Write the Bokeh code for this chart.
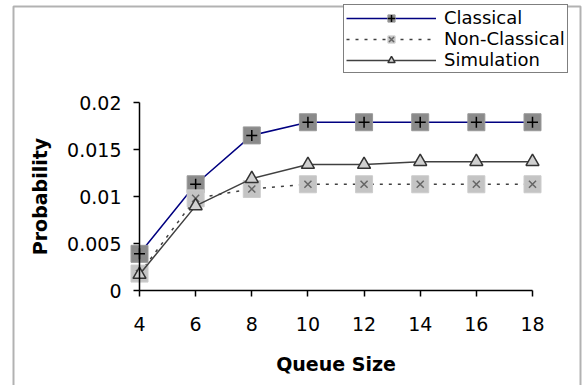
from bokeh.plotting import figure
from bokeh.models import (Range1d, FixedTicker, CustomJSTickFormatter, Legend, LegendItem,
                          BoxAnnotation)
from bokeh.embed import file_html
from bokeh.resources import INLINE

# ---- data ----
queue_size = [4, 6, 8, 10, 12, 14, 16, 18]
classical = [0.0039, 0.0113, 0.0165, 0.0179, 0.0179, 0.0179, 0.0179, 0.0179]
non_classical = [0.0018, 0.0098, 0.0108, 0.0113, 0.0113, 0.0113, 0.0113, 0.0113]
simulation = [0.0017, 0.0090, 0.0119, 0.0134, 0.0134, 0.0137, 0.0137, 0.0137]
x_ticks = [4, 6, 8, 10, 12, 14, 16, 18]
y_ticks = [0, 0.005, 0.01, 0.015, 0.02]

FONT = "DejaVu Sans"
W, H = 582, 385

# pixel layout of the plotting area (axes cross at x=4 / y=0)
X0_PX, X1_PX = 139, 532     # x = 4 .. 18
Y0_PX, Y1_PX = 290, 102     # y = 0 .. 0.02 (from top)
xs = (X1_PX - X0_PX) / (x_ticks[-1] - x_ticks[0])
ys = (Y0_PX - Y1_PX) / (y_ticks[-1] - y_ticks[0])
x_range = Range1d(x_ticks[0] - X0_PX / xs, x_ticks[-1] + (W - X1_PX) / xs)
y_range = Range1d(y_ticks[0] - (H - Y0_PX) / ys, y_ticks[-1] + Y1_PX / ys)

p = figure(width=W, height=H, output_backend="svg", toolbar_location=None,
           x_range=x_range, y_range=y_range,
           min_border_left=0, min_border_right=0, min_border_top=0, min_border_bottom=0)
p.grid.visible = False
p.outline_line_color = None
p.background_fill_color = "white"
p.border_fill_color = "white"

for ax in (p.xaxis[0], p.yaxis[0]):
    ax.axis_line_color = "black"
    ax.axis_line_width = 1.5
    ax.major_tick_line_color = "black"
    ax.major_tick_line_width = 1.5
    ax.minor_tick_line_color = None
    ax.major_tick_in = 0
    ax.major_tick_out = 6
    ax.major_label_text_font = FONT
    ax.major_label_text_font_size = "19px"
    ax.major_label_text_color = "black"
    ax.axis_label_text_font = FONT
    ax.axis_label_text_font_size = "19px"
    ax.axis_label_text_font_style = "bold"
    ax.axis_label_text_color = "black"

xa = p.xaxis[0]
xa.ticker = FixedTicker(ticks=x_ticks)
xa.fixed_location = 0
xa.bounds = (x_ticks[0], x_ticks[-1])
xa.axis_label = "Queue Size"
xa.major_label_standoff = 20
xa.axis_label_standoff = 19

ya = p.yaxis[0]
ya.ticker = FixedTicker(ticks=y_ticks)
ya.formatter = CustomJSTickFormatter(code="return Number(tick.toPrecision(6)).toString();")
ya.fixed_location = 4
ya.bounds = (y_ticks[0], y_ticks[-1])
ya.axis_label = "Probability"
ya.major_label_standoff = 12
ya.axis_label_standoff = 13

# Classical
l1 = p.line(queue_size, classical, line_color="#000080", line_width=1.5)
m1a = p.scatter(queue_size, classical, marker="square", size=17, fill_color="#8a8a8a",
                line_color="#999999", line_width=1)
m1b = p.scatter(queue_size, classical, marker="cross", size=11, line_color="black", line_width=1.5)

# Non-Classical
l2 = p.line(queue_size, non_classical, line_color="#404040", line_width=1.5, line_dash="3 6")
m2a = p.scatter(queue_size, non_classical, marker="square", size=17, fill_color="#c4c4c4",
                line_color="#cccccc", line_width=1)
m2b = p.scatter(queue_size, non_classical, marker="x", size=10, line_color="#666666", line_width=1.5)

# Simulation
l3 = p.line(queue_size, simulation, line_color="#404040", line_width=1.5)
m3 = p.scatter(queue_size, simulation, marker="triangle", size=13, fill_color="#d0d0d0",
               line_color="#333333", line_width=1.5)

legend = Legend(items=[
    LegendItem(label="Classical", renderers=[l1, m1a, m1b]),
    LegendItem(label="Non-Classical", renderers=[l2, m2a, m2b]),
    LegendItem(label="Simulation", renderers=[l3, m3]),
], location=(343, H - 73))
legend.border_line_color = "black"
legend.border_line_width = 1.5
legend.background_fill_color = "white"
legend.background_fill_alpha = 1
legend.padding = 2
legend.spacing = 0
legend.margin = 0
legend.glyph_width = 90
legend.glyph_height = 18
legend.label_height = 18
legend.label_standoff = 8
legend.label_text_font = FONT
legend.label_text_font_size = "18px"
legend.label_text_line_height = 1.0
legend.label_text_color = "black"
p.add_layout(legend, "center")

# outer chart-area border
border = BoxAnnotation(left=13, right=580, top=6, bottom=H + 30,
                       left_units="canvas", right_units="canvas",
                       top_units="canvas", bottom_units="canvas",
                       fill_alpha=0, line_color="black", line_width=2)
p.add_layout(border)

open("out.html", "w").write(file_html(p, INLINE))
